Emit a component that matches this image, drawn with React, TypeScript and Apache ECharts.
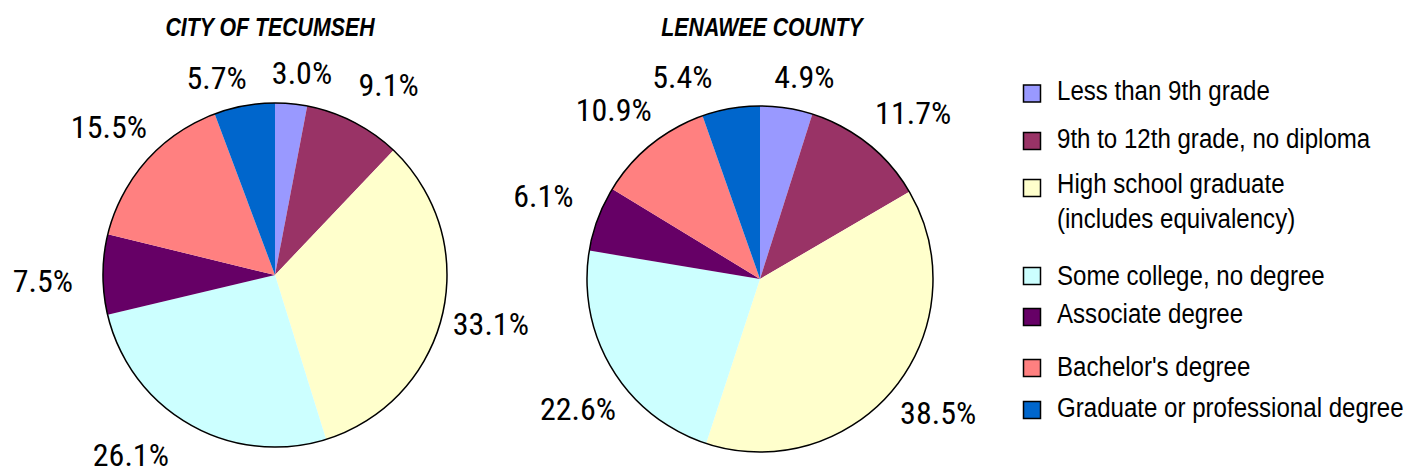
import React, { useEffect, useRef } from "react";
import * as echarts from "echarts";

const categories = [
  "Less than 9th grade",
  "9th to 12th grade, no diploma",
  "High school graduate\n(includes equivalency)",
  "Some college, no degree",
  "Associate degree",
  "Bachelor's degree",
  "Graduate or professional degree",
];
const colors = ["#9999FF", "#993366", "#FFFFCC", "#CCFFFF", "#660066", "#FF8080", "#0066CC"];
const tecumsehValues = [3.0, 9.1, 33.1, 26.1, 7.5, 15.5, 5.7];
const lenaweeValues = [4.9, 11.7, 38.5, 22.6, 6.1, 10.9, 5.4];
const titles = ["CITY OF TECUMSEH", "LENAWEE COUNTY"];

const SANS = '"Liberation Sans", Arial, sans-serif';
const LABEL_FONT = '"Roboto Condensed", "Noto Sans Condensed", "Open Sans Condensed", "DejaVu Sans Condensed", "Liberation Sans", sans-serif';

// layout (not data)
const pies = [
  { cx: 275, cy: 275, r: 172, titleX: 270 },
  { cx: 760, cy: 279, r: 173, titleX: 762 },
];
// small per-label nudges from the radial outside placement
const labelNudge = [
  [[8, -1], [17, -2], [-5, -3], [-37, -8], [-15, 7], [1, 0], [-22, 4]],
  [[13, 0], [15, 7], [3, -7], [12, 13], [-10, -6], [-7, 3], [-43, 0]],
];
const legendBoxY = [93.5, 141, 188, 276, 317, 368, 410];
const legendTextY = [90.5, 138, 200.5, 275, 313, 366, 407];
const LABEL_GAP = 15;
const LABEL_VIS_H = 24;

export default function App() {
  const ref = useRef<HTMLDivElement>(null);
  useEffect(() => {
    if (!ref.current) return;
    const chart = echarts.init(ref.current, null, { renderer: "svg" });
    const seriesData = [tecumsehValues, lenaweeValues];
    const series: any[] = [];
    seriesData.forEach((vals, i) => {
      const p = pies[i];
      series.push({
        type: "pie",
        center: [p.cx, p.cy],
        radius: p.r,
        startAngle: 90,
        clockwise: true,
        silent: true,
        avoidLabelOverlap: false,
        data: vals.map((v, k) => ({
          name: categories[k],
          value: v,
          itemStyle: { color: colors[k] },
        })),
        itemStyle: { borderWidth: 0 },
        label: {
          show: true,
          position: "outside",
          formatter: (prm: any) => Number(prm.value).toFixed(1) + "%",
          fontFamily: LABEL_FONT,
          fontSize: 32,
          color: "#000",
        },
        labelLine: { show: false, length: 14, length2: 0 },
        labelLayout: (prm: any) => {
          const total = vals.reduce((a, b) => a + b, 0);
          let cum = 0;
          for (let k = 0; k < prm.dataIndex; k++) cum += vals[k];
          const mid = ((cum + vals[prm.dataIndex] / 2) / total) * Math.PI * 2;
          const s = Math.sin(mid);
          const c = Math.cos(mid);
          const w = prm.labelRect.width;
          const d = p.r + LABEL_GAP + (w / 2) * Math.abs(s) + (LABEL_VIS_H / 2) * Math.abs(c);
          const n = labelNudge[i][prm.dataIndex] || [0, 0];
          return {
            x: p.cx + d * s + n[0],
            y: p.cy - d * c + n[1],
            align: "center",
            verticalAlign: "middle",
            hideOverlap: false,
          };
        },
      });
      series.push({
        type: "pie",
        center: [p.cx, p.cy],
        radius: p.r,
        silent: true,
        label: { show: false },
        labelLine: { show: false },
        data: [{ value: 1, itemStyle: { color: "rgba(0,0,0,0)", borderColor: "#000", borderWidth: 1.5 } }],
        z: 3,
      });
    });

    const graphic: any[] = [];
    titles.forEach((t, i) => {
      graphic.push({
        type: "text",
        x: pies[i].titleX,
        y: 27,
        scaleX: 0.82,
        style: {
          text: t,
          fontFamily: SANS,
          fontSize: 26,
          fontWeight: "bold",
          fontStyle: "italic",
          fill: "#000",
          textAlign: "center",
          textVerticalAlign: "middle",
        },
      });
    });
    categories.forEach((c, k) => {
      graphic.push({
        type: "rect",
        shape: { x: 1023.5, y: legendBoxY[k] - 8.5, width: 17, height: 17 },
        style: { fill: colors[k], stroke: "#000", lineWidth: 1.5 },
      });
      graphic.push({
        type: "text",
        x: 1057,
        y: legendTextY[k],
        scaleX: 0.86,
        style: {
          text: c,
          fontFamily: SANS,
          fontSize: 28,
          lineHeight: 35,
          fill: "#000",
          textAlign: "left",
          textVerticalAlign: "middle",
        },
      });
    });

    chart.setOption({
      animation: false,
      backgroundColor: "#fff",
      series,
      graphic,
    });
    return () => chart.dispose();
  }, []);
  return (
    <div
      ref={ref}
      style={{ position: "fixed", left: 0, top: 0, width: 1406, height: 472 }}
    />
  );
}
